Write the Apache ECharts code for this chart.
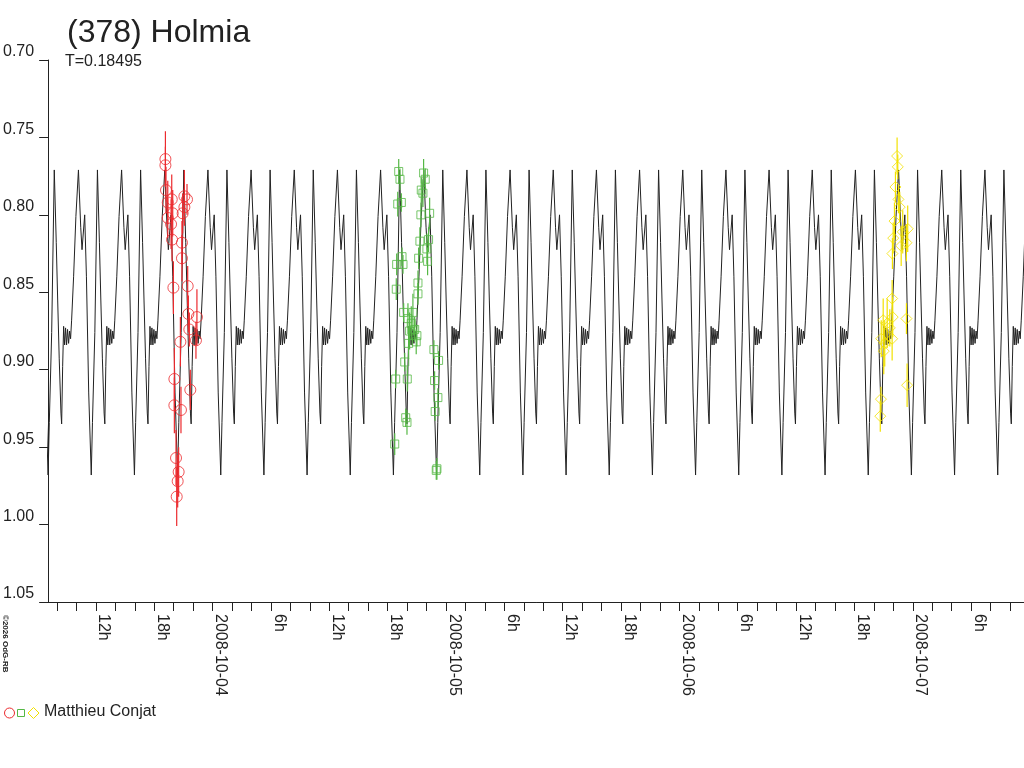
<!DOCTYPE html>
<html>
<head>
<meta charset="utf-8">
<script src="https://cdn.jsdelivr.net/npm/echarts@6/dist/echarts.min.js"></script>
<style>
html,body{margin:0;padding:0;background:#fff;}
#c{width:1024px;height:768px;}
</style>
</head>
<body>
<div id="c"></div>
<script>
// Time in hours from 2008-10-04 00:00 UT; values in magnitude (inverted axis)
const X_MIN = -16.91;
const X_MAX = 83.44;
const Y_MIN = 0.70;
const Y_MAX = 1.05;
const PERIOD_DAYS = 0.18495;
const EPOCH_H = -16.28;   // time of primary maximum of the model, hours

// one period of the model lightcurve
const shapePhase = [0.000, 0.046, 0.079, 0.115, 0.155, 0.171, 0.194, 0.217, 0.240, 0.262, 0.285, 0.308, 0.332, 0.355, 0.378, 0.402, 0.448, 0.501, 0.560, 0.613, 0.643, 0.705, 0.745, 0.798, 0.857, 0.885, 0.940];
const shapeMag   = [0.771, 0.818, 0.855, 0.893, 0.928, 0.935, 0.898, 0.872, 0.884, 0.873, 0.884, 0.874, 0.883, 0.875, 0.880, 0.868, 0.840, 0.801, 0.771, 0.808, 0.8225, 0.800, 0.840, 0.915, 0.968, 0.934, 0.876];

// session 1 (red circles)
const redT   = [-4.85, -4.85, -4.79, -4.61, -4.20, -4.10, -4.61, -4.27, -4.17, -2.90, -2.63, -2.90, -3.08, -3.15, -3.15, -4.03, -2.56, -2.49, -1.61, -2.39, -1.71, -3.31, -3.93, -2.29, -3.93, -3.25, -3.76, -3.49, -3.59, -3.69];
const redMag = [0.764, 0.768, 0.784, 0.792, 0.790, 0.799, 0.802, 0.806, 0.816, 0.788, 0.790, 0.795, 0.799, 0.818, 0.828, 0.847, 0.846, 0.864, 0.866, 0.874, 0.881, 0.882, 0.906, 0.913, 0.923, 0.926, 0.957, 0.966, 0.972, 0.982];
const redErr = [0.018, 0.012, 0.015, 0.014, 0.016, 0.015, 0.013, 0.016, 0.014, 0.017, 0.010, 0.012, 0.013, 0.014, 0.015, 0.017, 0.013, 0.012, 0.018, 0.011, 0.012, 0.016, 0.020, 0.013, 0.018, 0.015, 0.018, 0.016, 0.017, 0.019];

// session 2 (green squares)
const greenT   = [19.14, 19.27, 19.04, 19.41, 19.48, 18.93, 19.58, 18.89, 19.65, 20.60, 20.09, 20.43, 20.78, 20.26, 21.01, 20.16, 20.94, 19.76, 18.83, 20.02, 19.86, 19.99, 18.73, 21.70, 21.87, 21.46, 21.63, 22.32, 21.42, 21.32, 22.21, 22.04, 21.19, 22.11, 21.12, 21.12, 22.76, 23.24, 22.83, 23.17, 22.89, 23.07, 23.00];
const greenMag = [0.772, 0.777, 0.793, 0.792, 0.827, 0.832, 0.832, 0.848, 0.863, 0.863, 0.867, 0.870, 0.874, 0.875, 0.878, 0.883, 0.882, 0.895, 0.906, 0.906, 0.931, 0.934, 0.948, 0.773, 0.777, 0.784, 0.786, 0.799, 0.800, 0.817, 0.816, 0.822, 0.828, 0.830, 0.844, 0.851, 0.887, 0.894, 0.907, 0.918, 0.927, 0.964, 0.965];
const greenErr = [0.008, 0.007, 0.008, 0.006, 0.006, 0.007, 0.006, 0.007, 0.006, 0.012, 0.010, 0.011, 0.008, 0.012, 0.007, 0.010, 0.008, 0.006, 0.006, 0.008, 0.006, 0.008, 0.007, 0.009, 0.007, 0.008, 0.009, 0.010, 0.008, 0.009, 0.008, 0.010, 0.007, 0.009, 0.008, 0.007, 0.006, 0.006, 0.006, 0.006, 0.006, 0.007, 0.006];

// session 3 (yellow diamonds)
const yellowT   = [70.39, 70.46, 70.22, 70.53, 70.66, 70.12, 71.48, 69.99, 70.97, 71.35, 70.81, 69.91, 69.88, 69.94, 68.96, 69.37, 71.35, 69.64, 68.76, 69.88, 69.12, 69.02, 71.42, 68.73, 68.66];
const yellowMag = [0.762, 0.769, 0.782, 0.790, 0.795, 0.804, 0.809, 0.815, 0.811, 0.818, 0.820, 0.825, 0.854, 0.866, 0.868, 0.870, 0.867, 0.873, 0.880, 0.880, 0.883, 0.888, 0.910, 0.919, 0.930];
const yellowErr = [0.012, 0.008, 0.010, 0.009, 0.010, 0.012, 0.015, 0.010, 0.014, 0.012, 0.013, 0.010, 0.012, 0.013, 0.014, 0.016, 0.010, 0.012, 0.012, 0.014, 0.015, 0.015, 0.014, 0.008, 0.010];

const yTicks = [0.70, 0.75, 0.80, 0.85, 0.90, 0.95, 1.00, 1.05];
const xTickHours  = [-16,-14,-12,-10,-8,-6,-4,-2,0,2,4,6,8,10,12,14,16,18,20,22,24,26,28,30,32,34,36,38,40,42,44,46,48,50,52,54,56,58,60,62,64,66,68,70,72,74,76,78,80,82];
const xLabelHours = [-12,-6,0,6,12,18,24,30,36,42,48,54,60,66,72,78];
const dayNames = ['2008-10-04','2008-10-05','2008-10-06','2008-10-07'];

const TITLE = '(378) Holmia';
const SUBTITLE = 'T=0.18495';
const OBSERVER = 'Matthieu Conjat';
const COPY = '\u00A92026 OdG-RB';

const FONT = "'Liberation Sans', Arial, sans-serif";
const INK = '#222';
const RED = '#ec2a2e', GREEN = '#55b845', YELLOW = '#f2e100';

// build the model curve by repeating the period shape
const P = PERIOD_DAYS * 24;
const curve = [];
for (let n = Math.floor((X_MIN - EPOCH_H) / P) - 1; EPOCH_H + n * P < X_MAX + P; n++) {
  for (let i = 0; i < shapePhase.length; i++) {
    curve.push([EPOCH_H + (n + shapePhase[i]) * P, shapeMag[i]]);
  }
}

function pts(t, m, e) { return t.map((v, i) => [v, m[i], e[i]]); }
const redPts = pts(redT, redMag, redErr);
const greenPts = pts(greenT, greenMag, greenErr);
const yellowPts = pts(yellowT, yellowMag, yellowErr);

function errSeries(data, color) {
  return {
    type: 'custom', data: data, z: 3, silent: true,
    renderItem: function (params, api) {
      const x = api.value(0), y = api.value(1), e = api.value(2);
      const a = api.coord([x, y - e]), b = api.coord([x, y + e]);
      return { type: 'line', shape: { x1: a[0], y1: a[1], x2: b[0], y2: b[1] }, style: { stroke: color, lineWidth: 1.2 } };
    }
  };
}
function markSeries(data, symbol, size, color) {
  return {
    type: 'scatter', data: data, symbol: symbol, symbolSize: size, z: 4, silent: true,
    itemStyle: { color: 'rgba(0,0,0,0)', borderColor: color, borderWidth: 1 }
  };
}

function xLabel(v) {
  const h = Math.round(v);
  if (((h % 24) + 24) % 24 === 0) return dayNames[h / 24];
  return (((h % 24) + 24) % 24) + 'h';
}

const chart = echarts.init(document.getElementById('c'), null, { renderer: 'canvas' });
chart.setOption({
  animation: false,
  backgroundColor: '#fff',
  title: [
    { text: TITLE, left: 62, top: 12, textStyle: { fontFamily: FONT, fontSize: 32, fontWeight: 'normal', color: INK } },
    { text: SUBTITLE, left: 60, top: 49, textStyle: { fontFamily: FONT, fontSize: 16, fontWeight: 'normal', color: INK } }
  ],
  grid: { left: 45, right: 0, top: 60, bottom: 166, containLabel: false },
  xAxis: {
    type: 'value', min: X_MIN, max: X_MAX,
    axisLine: { show: true, onZero: false, lineStyle: { color: INK, width: 1 } },
    axisTick: { show: true, length: 9, lineStyle: { color: INK }, customValues: xTickHours },
    axisLabel: {
      show: true, rotate: -90, margin: 12, customValues: xLabelHours,
      formatter: xLabel, fontFamily: FONT, fontSize: 16, color: INK, verticalAlign: 'bottom'
    },
    splitLine: { show: false }
  },
  yAxis: {
    type: 'value', inverse: true, min: Y_MIN, max: Y_MAX,
    axisLine: { show: true, onZero: false, lineStyle: { color: INK, width: 1 } },
    axisTick: { show: true, length: 9, lineStyle: { color: INK }, customValues: yTicks },
    axisLabel: {
      show: true, margin: 14, customValues: yTicks,
      formatter: v => v.toFixed(2), fontFamily: FONT, fontSize: 16, color: INK, verticalAlign: 'bottom'
    },
    splitLine: { show: false }
  },
  series: [
    { type: 'line', data: curve, symbol: 'none', z: 2, silent: true, clip: true,
      lineStyle: { color: INK, width: 1 } },
    errSeries(redPts, RED),
    errSeries(greenPts, GREEN),
    errSeries(yellowPts, YELLOW),
    markSeries(redPts, 'circle', 11, RED),
    markSeries(greenPts, 'rect', 8, GREEN),
    markSeries(yellowPts, 'diamond', 11, YELLOW)
  ],
  graphic: [
    { type: 'circle', shape: { cx: 9.5, cy: 713, r: 5 }, style: { fill: 'none', stroke: RED, lineWidth: 1 } },
    { type: 'rect', shape: { x: 17.5, y: 709.5, width: 7, height: 7 }, style: { fill: 'none', stroke: GREEN, lineWidth: 1 } },
    { type: 'polygon', shape: { points: [[33.5, 707.5], [39, 713], [33.5, 718.5], [28, 713]] }, style: { fill: 'none', stroke: YELLOW, lineWidth: 1 } },
    { type: 'text', x: 44, y: 712, style: { text: OBSERVER, fontFamily: FONT, fontSize: 16, fill: INK, verticalAlign: 'middle' } },
    { type: 'text', x: 1, y: 615, rotation: -Math.PI / 2, style: { text: COPY, fontFamily: FONT, fontSize: 8, fontWeight: 'bold', fill: INK, verticalAlign: 'bottom', align: 'left' } }
  ]
});
</script>
</body>
</html>
